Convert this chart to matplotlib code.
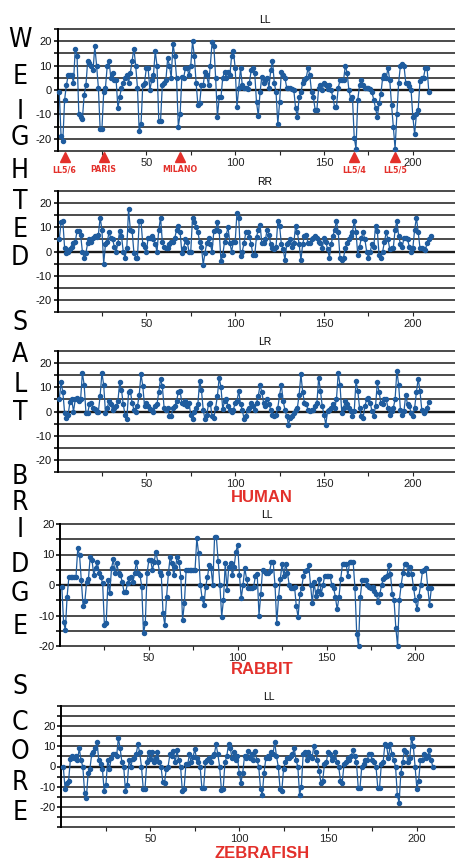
import numpy as np
import matplotlib.pyplot as plt

plt.rcParams['axes.unicode_minus'] = False

# 1. Data: weighted salt bridge score per residue
human_ll = [-1, -19, -21, -4, 2, 6, 6, 6, 3, 17,
            14, -10, -11, -12, -2, 2, 12, 11, 10, 8,
            18, 10, 1, -16, -16, -1, 1, 10, 12, 5,
            7, 4, 4, -7.5, -3, 1, 3, 5, 6, 3,
            7, 12, 17, 10, 1, -17, -14, 2, 3, 9,
            9, 0, 4, 6, 16, 10, -12.5, -12.5, 2, 3,
            4, 13, 10, 5, 19, 14, 5, -15, -10, 5.5,
            5, 9, 9, 6, 10, 20, 14, 3, -6, -5.5,
            2, 2, 7.5, 6, 2, 10, 19.5, 18, 5, -11,
            -3, -3, 5, 7.5, 5, 7.5, 6, 14, 16, 9,
            -7, 1, 9, 2, 1, 1, 0.5, 3, 8, 9,
            7, -5, -10.5, -1, 5.5, 3, 4, 5, 1, 8,
            12, 3, -1, -14, -5, 7.5, 6, 5, 1, 1,
            1, 0.5, 0, -7.5, -11, -3, -1, 3, 4, 5,
            9, 6, -1, -3, -8, -8, 1, 2, 0, 3,
            2, 0.5, 2, 0, -3, -7, -7, 1, 4, 4,
            4, 10, 7, 0, -3.5, -3, -19.5, -24, -4, 2,
            4, 2, 1, 1, 1, 0.5, -1, -4, -7.5, -11,
            -5.5, -1.5, 5, 6, 5, 9, 4, -6, -15, -24,
            -10, 3, 10, 10.5, 10, 3, 3, 1.5, 0, -11,
            -18, -10, -8, 3.5, 5, 5, 9, 9, -1]

human_rr = [5, 12, 12.5, 1.5, -0.5, 0, 1, 2, 3.5, 4,
            8.5, 8.5, 7, 0, -2.5, -0.5, 3.5, 5, 4, 5.5,
            6.5, 6, 7, 14, 9, -5, 3, 4, 8, 5.5,
            5, 2, 0, 3.5, 8.5, 6.5, 0, -2.5, 1.5, 17.5,
            9, 8.5, -0.5, -2.5, -2.5, 12.5, 12.5, 3, 2, 0,
            5.5, 5.5, 6.5, 5, 3, 0, 9, 14, 4, 2,
            1.5, 1.5, 3, 4, 4, 5.5, 9, 10.5, 8, -0.5,
            1.5, 5, 4, 0, 0, 14, 12, 10, 8, 4,
            2, -5.5, -0.5, 3.5, 5.5, 3, 0, 8.5, 9, 12,
            8.5, -4, -1.5, 4, 7, 10, 3.5, 0, 4, 4,
            16, 14, -2, 0, 3.5, 8, 8, 6, 3, -1.5,
            -1.5, 6, 9, 11, 3.5, 3.5, 5, 9, 7, 3,
            1.5, 1, 2, 12.5, 10.5, 3, 1, -3.5, 3, 3.5,
            5, 2, 3.5, 10.5, 8, 3, -3.5, 3, 6.5, 7,
            3.5, 3.5, 5, 5.5, 6.5, 5.5, 4, 3.5, 1.5, 5.5,
            4, 1, -2.5, 3, 6.5, 9, 12.5, 8, -2.5, -3.5,
            -2.5, 1.5, 3.5, 5, 6.5, 8, 12.5, 8, -1.5, 2,
            5.5, 8, 5, 0, -2.5, 0, 3, 2, 10.5, 8.5,
            -1.5, -2.5, 0, 4, 8, 5, 1, 1.5, 1.5, 9,
            12.5, 6.5, 3, 2, 5.5, 5.5, 5, 2, 0, 1.5,
            9, 14, 8, 1.5, 1.5, 1, 0.5, 3.5, 5, 6.5]

human_lr = [5, 12, 8, -0.5, -2.5, -1.3, 4, 5, 0, 5,
            5.5, 4.3, 5, 16, 11, -0.5, -0.5, 3, 3.5, 1.5,
            1, 0, 0, 6.5, 16, 11, -0.5, 1.5, 4.3, 3,
            0.8, 1.5, 2.2, 4.3, 12, 9, 3, -1.3, -3.3, 8,
            8.5, 3.5, 0.8, 0, 2.2, 7, 15.4, 10.5, 2.2, 3.5,
            2.2, 1, 0.8, 0, 2.2, 3, 8, 13.3, 10.5, 1.5,
            0.8, 1.5, -2, -2, 1.5, 2.2, 4.3, 8, 8.5, 3.5,
            3, 4.3, 2.2, 3.5, -1.3, -3.3, 0, 1.5, 3, 12.6,
            9, 0.8, -3.3, -1.3, 3, 3.5, -2, -2.5, 1.5, 6.5,
            14, 10, 1, 4.3, 5, 2.2, 0.8, 0, 0.8, 3.5,
            4.3, 8.5, 3, 0.8, -3.3, -2, 0.8, 1.5, 3.6, 2.2,
            0.8, 3.6, 6.4, 11, 8, 3.6, 2.2, 5, 3, 0.8,
            -1.3, -2, -1.3, 1.5, 7, 11, 4.3, 0.8, -1.9, -5.4,
            -2.6, -1.9, -0.6, 0.8, 1.5, 7, 15.4, 8, 3.6, 2.9,
            0.8, 0.1, 0.8, 0.8, 2.2, 3.6, 14, 8.5, 2.2, -1.3,
            -5.4, 0.1, 0.8, 1.5, 2.9, 1.5, 5, 16, 11, -0.6,
            1.5, 4.3, 2.9, 1.5, 0.1, -1.9, 0.1, 12.6, 8.5, 1.5,
            -1.9, -2.6, 2.2, 5, 5.7, 3.6, 0.1, -1.9, 2.2, 12,
            8, 3.6, 2.9, 5, 5, 1.5, -1.3, 0.1, 1.5, 5,
            16.8, 11, 0.8, -1.3, 0.1, 7, 2.9, 2.2, -0.6, -1.9,
            1.5, 8, 13.6, 8.5, 0.8, -0.6, 0.1, 1.5, 4]

rabbit_ll = [-0.5, -12, -14.8, -3.8, 2.7, 2.7, 2.7, 2.7, 2.7, 12,
             9.8, 1.6, -6.9, -5.2, 1, 1.9, 9.3, 8.2, 3.3, 5.5,
             7.6, 3.8, 2.7, 0.5, -13.1, -12.6, 1.6, -2.7, 5.5, 8.4,
             3.8, 7.1, 3.8, 3.3, 1.1, -2.2, -2.2, 0.5, 2.2, 2.7,
             1, 3.8, 7.6, 3.8, 3.3, -0.5, -15.8, -12.6, 3.8, 8.2,
             8.2, 4.9, 7.6, 10.9, 7.6, 4.4, 3.3, -9.3, -13.1, -3.8,
             3.8, 9.3, 7.1, 3.3, 6, 9.3, 7.6, 2.7, -11.5, -6,
             4.9, 4.9, 4.9, 4.9, 4.9, 4.9, 15.3, 10.4, 0, -4.4,
             -6.6, -0.5, 2.7, 6.6, 5.5, 0, 15.8, 15.8, 8, 0,
             -10.4, -4.9, 7.1, -1.6, 6, 7.1, 3.3, 6, 10.9, 13.1,
             3.3, -4.4, 0, 5.5, 2, -1, -1, -1, -0.5, 3,
             3.5, -10, -3, 5, 4.5, 4, 4, 4.5, 7.5, 7.5,
             0, -12.5, -4, 2, 7, 3, 7, 4, 0, -1,
             -1, -0.5, -7, -10.5, -3, -1, 3, 4.5, 5, 6.5,
             0, -6, 1, -3.5, -2, 2, -3, 0, 3, 3,
             3, 3, 0, -1, -4, -8, -4, 2, 7, 7,
             7, 3, 7.5, 7.5, 7.5, -1, -16, -20, -4, 1.5,
             1.5, 1.5, 0, -0.5, -1, -0.5, -2, -3, -5.5, -3,
             0, 2, 2.5, 3, 6.5, 3.5, -3, -5, -14, -20,
             -5, 0, 4, 7, 7, 3.5, 6, 3.5, -1, -5,
             -8, -3.5, 0, 4.5, 5, 5.5, -1, -6.5, -1]

zebrafish_ll = [0, -11, -8, -7, 3.5, 5, 4, 5, 3, 9, 3,
                0, -13, -15.5, -3, -1, 6, 7, 9, 12, 3, 1,
                -1, -12, -9, 3, -1, 4, 6, 6, 5, 14, 9,
                2, 0, -12, -9, 3, 0, 3.5, 4, 6, 11, 7,
                0, -11, -11, 2, 7, 3.5, 7, 2, 4, 7, 2,
                0, -7.5, -8, -1, 0, 6, 5, 7.5, 2, 8, 3,
                0, -12, -11, 1, 1, 6, 2, 4.5, 8.5, 4, 2,
                0, -10.5, -10.5, 2, 3, 4, 2, 5, 6, 11, 6,
                0, -11.5, -11, 2, 5, 11, 9, 4, 7, 3, 5,
                -3, -8, -3, 5, 4, 7.5, 4, 6, 3, 7.5, 3,
                0, -11, -14, -3, 4, 5, 4, 7, 6, 12, 5,
                0, -11, -12, -1, 2, 4, 4, 5, 6, 9, 3,
                0, -14, -10, 6, 7, 3, 7, 5, 4, 10, 7,
                3, -2, -8, -7, 1, 2, 7, 6, 3, 4, 7,
                2, 0, -7, -8, 1, 2, 4, 3, 5, 8, 5,
                2, -10.5, -10.5, 0, 1, 3, 3, 6, 6, 3, 2,
                0, -10.5, -10.5, 1, 2, 11, 10, 4, 11, 6, 3,
                0, -14, -18, -3, 2, 8, 7, 2, 4, 14, 10,
                0, -11, -7, 3, 3, 6, 4, 5, 8, 3, 0]

# mutation sites marked under the first panel
site_pos = [4, 26, 69, 167, 190]
site_names = ['LL5/6', 'PARIS', 'MILANO', 'LL5/4', 'LL5/5']

titles = ['LL', 'RR', 'LR', 'LL', 'LL']
species = ['HUMAN', 'RABBIT', 'ZEBRAFISH']
side_word = 'WEIGHTED SALT BRIDGE SCORE'

BLUE = '#1f5c9e'
RED = '#e3302b'
NARROW = ['Liberation Sans Narrow', 'DejaVu Sans']
SANS = ['Liberation Sans', 'DejaVu Sans']

# 2. Figure, laid out in pixels
W, H = 455, 861
fig = plt.figure(figsize=(W / 100, H / 100), dpi=100)


def add_panel(left, top, bottom):
    return fig.add_axes([left / W, 1 - bottom / H, 398 / W, (bottom - top) / H])


# (values, y limit, left px, top px, bottom px)
panels = [
    (human_ll, 25, 57.5, 29, 151),
    (human_rr, 25, 57.5, 191, 312),
    (human_lr, 25, 57.5, 351, 472),
    (rabbit_ll, 20, 60, 524, 646),
    (zebrafish_ll, 30, 61.5, 706, 827),
]

axes = []
for (vals, lim, left, top, bottom), title in zip(panels, titles):
    ax = add_panel(left, top, bottom)
    x = np.arange(1, len(vals) + 1)
    ax.set_xlim(0, 224)
    ax.set_ylim(-lim, lim)
    for g in np.arange(-lim, lim + 1, 5):
        ax.axhline(g, color='#1a1a1a', lw=1.7 if g == 0 else 1.1, zorder=1, clip_on=False)
    ax.plot(x, vals, '-o', color=BLUE, lw=0.9, ms=2.9, zorder=3, clip_on=False)

    for s in ['top', 'right', 'bottom']:
        ax.spines[s].set_visible(False)
    ax.spines['left'].set_linewidth(1.4)
    ax.set_yticks([-20, -10, 0, 10, 20])
    ax.set_yticks(np.arange(-lim, lim + 1, 5), minor=True)
    ax.set_xticks([50, 100, 150, 200])
    ax.set_xticks([25, 75, 125, 175], minor=True)
    ax.tick_params(axis='y', which='both', direction='out', length=3, width=1.2, pad=1,
                   labelsize=8, colors='#111111')
    ax.tick_params(axis='x', which='both', direction='out', length=3, width=0.8, pad=2,
                   labelsize=8, colors='#222222')
    for lab in ax.get_xticklabels() + ax.get_yticklabels():
        lab.set_family(SANS)
    ax.text(0.52, 1.03, title, transform=ax.transAxes, ha='center', va='bottom',
            fontsize=7.5, family=SANS)
    axes.append(ax)

# 3. Mutation site markers under the first panel
ax1 = axes[0]
tr = ax1.get_xaxis_transform()
ax1.plot(site_pos, [-0.05] * len(site_pos), '^', color=RED, ms=7, transform=tr, clip_on=False)
for p, name in zip(site_pos, site_names):
    ax1.text(p, -0.155, name, transform=tr, ha='center', va='center', color=RED,
             fontsize=6.3, fontweight='bold', fontstretch='condensed', family=NARROW)

# 4. Species labels
for name, y in zip(species, [498, 669, 853]):
    fig.text(262 / W, 1 - y / H, name, ha='center', va='center', color=RED,
             fontsize=12, fontweight='bold', family=SANS)

# 5. Big vertical axis word, one letter per line
letter_y = [40, 77, 112, 138, 171, 202, 230, 258,
            323, 355, 385, 413,
            477, 503, 530, 565, 594, 627,
            687, 723, 752, 783, 813]
letters = [c for c in side_word if c != ' ']
for c, y in zip(letters, letter_y):
    fig.text(20 / W, 1 - y / H, c, ha='center', va='center', fontsize=19,
             fontstretch='condensed', family=NARROW)

fig.savefig('out.png', dpi=100)
